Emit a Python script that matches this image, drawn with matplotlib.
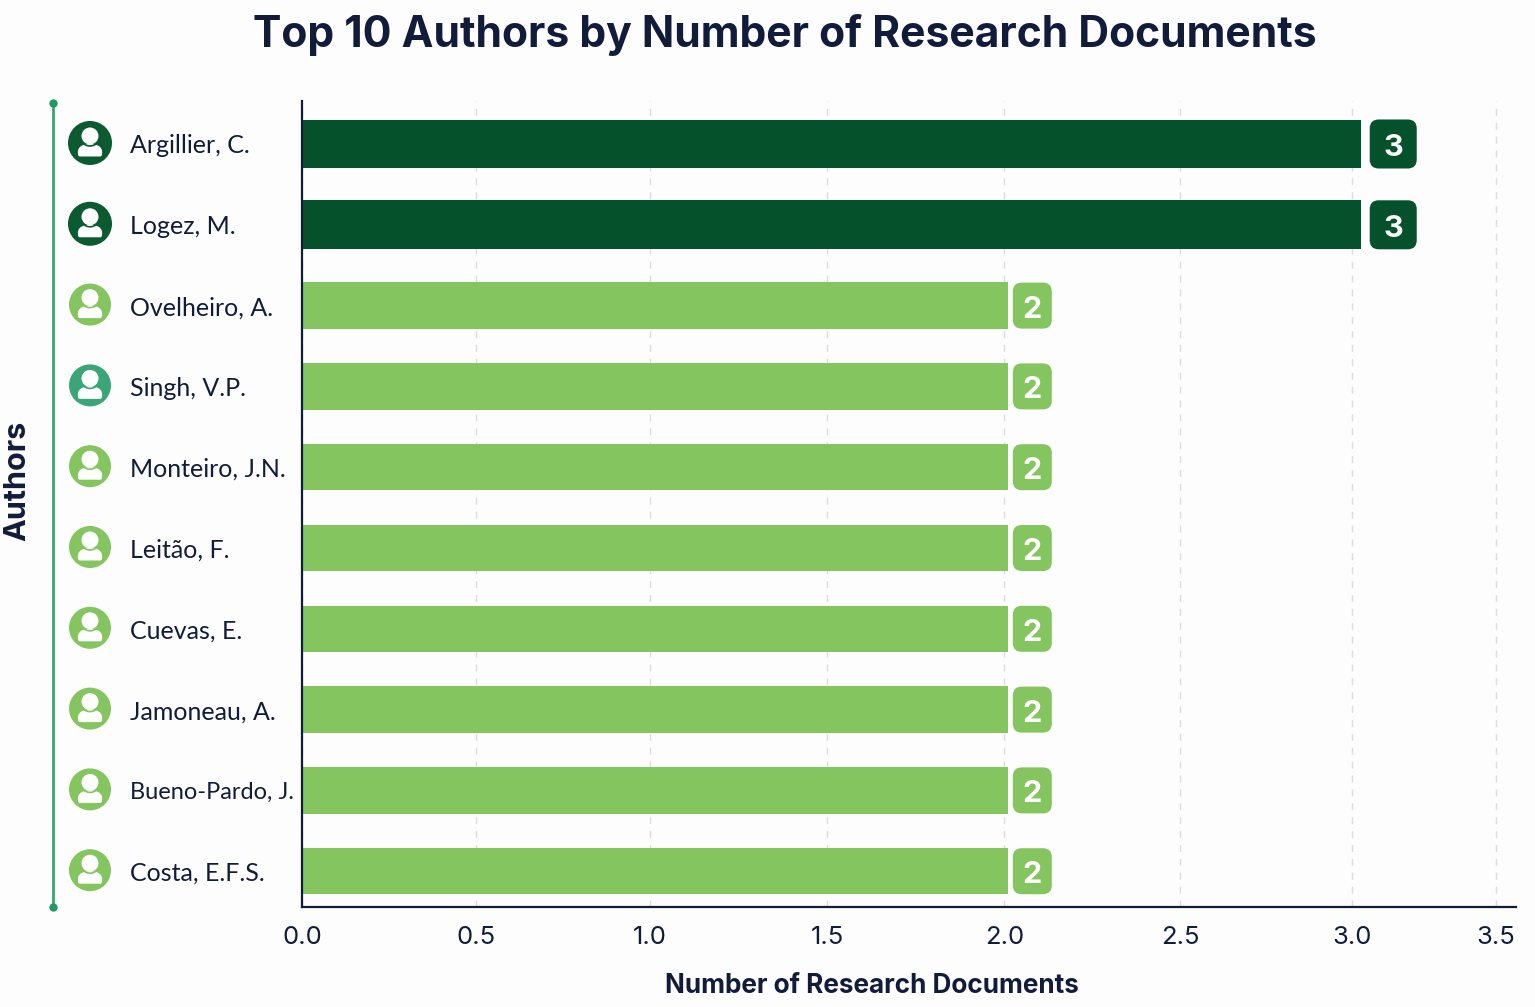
import matplotlib
matplotlib.use("Agg")
import matplotlib.pyplot as plt
from matplotlib.patches import Circle, PathPatch, FancyBboxPatch
from matplotlib.path import Path

plt.rcParams["font.family"] = ["Inter", "DejaVu Sans"]

# data
authors = ["Argillier, C.", "Logez, M.", "Ovelheiro, A.", "Singh, V.P.", "Monteiro, J.N.",
           "Leitão, F.", "Cuevas, E.", "Jamoneau, A.", "Bueno-Pardo, J.", "Costa, E.F.S."]
documents = [3, 3, 2, 2, 2, 2, 2, 2, 2, 2]
# the reference ticks are not evenly spaced, so positions are read off separately
tick_positions = [0.0, 0.492, 0.986, 1.488, 1.99, 2.489, 2.975, 3.383]
tick_labels = ["0.0", "0.5", "1.0", "1.5", "2.0", "2.5", "3.0", "3.5"]

W, H = 1535, 1007
NAVY = "#101c3a"
DARK = "#05512b"
LIGHT = "#84c55f"
TEAL = "#3aa676"
BG = "#fdfdfd"
avatar_colors = ["#0b5a30", "#0b5a30", LIGHT, TEAL] + [LIGHT] * 6

fig = plt.figure(figsize=(W / 100, H / 100), dpi=100, facecolor=BG)

# main axes: left 302, right 1516, top 101, bottom 907 (pixels)
ax = fig.add_axes([302 / W, 1 - 907 / H, (1516 - 302) / W, (907 - 101) / H], facecolor="none")
ax.set_xlim(0, 3.44)
ax.set_ylim(9.443, -0.532)

# overlay in pixel coordinates for avatars and badges
ov = fig.add_axes([0, 0, 1, 1], facecolor="none")
ov.set_xlim(0, W)
ov.set_ylim(H, 0)
ov.axis("off")

colors = [DARK if v == 3 else LIGHT for v in documents]
heights = [0.606 if v == 3 else 0.572 for v in documents]
ypos = list(range(len(authors)))
ax.barh(ypos, documents, height=heights, color=colors, zorder=2)

ax.set_xticks(tick_positions, tick_labels, fontsize=18.5, color=NAVY)
ax.set_yticks(ypos, authors, fontsize=18, color=NAVY, ha="left", family=["Lato", "DejaVu Sans"])
# longest name has to stay clear of the axis line
ax.get_yticklabels()[8].set_fontsize(17)
ax.tick_params(axis="x", length=0, pad=14)
ax.tick_params(axis="y", length=0, pad=123.8)
ax.grid(axis="x", color="#dddddd", linestyle=(0, (5, 5)), linewidth=1, zorder=0)
ax.set_axisbelow(True)
for s in ["top", "right"]:
    ax.spines[s].set_visible(False)
for s in ["left", "bottom"]:
    ax.spines[s].set_color(NAVY)
    ax.spines[s].set_linewidth(1.6)


def to_px(x, y):
    px, py = ax.transData.transform((x, y))
    return px, H - py


def body_path(cx, cy):
    # shoulders of the person icon, y grows downward on the overlay
    verts = [(-12, 11), (-13, 5), (-9, 1), (0, 1), (9, 1), (13, 5), (12, 11),
             (12, 13), (11, 13.5), (10, 13.5), (-10, 13.5), (-11, 13.5), (-12, 13), (-12, 11), (-12, 11)]
    codes = [Path.MOVETO, Path.CURVE4, Path.CURVE4, Path.CURVE4, Path.CURVE4, Path.CURVE4, Path.CURVE4,
             Path.CURVE4, Path.CURVE4, Path.CURVE4, Path.LINETO, Path.CURVE4, Path.CURVE4, Path.CURVE4,
             Path.CLOSEPOLY]
    return Path([(cx + x, cy + y) for x, y in verts], codes)


for i, (v, c) in enumerate(zip(documents, colors)):
    # value badge next to the bar end
    end, cy = to_px(v, i)
    big = v == 3
    bw, bh = (47, 49) if big else (39, 46)
    gap = 9 if big else 5
    ov.add_patch(FancyBboxPatch((end + gap + 9, cy - bh / 2 + 9), bw - 18, bh - 18,
                                boxstyle="round,pad=9,rounding_size=9",
                                fc=c, ec="none", zorder=3))
    ov.text(end + gap + bw / 2, cy + 1, str(v), color="white", fontsize=22, fontweight="bold",
            ha="center", va="center_baseline", zorder=4)
    # avatar
    r = 22 if big else 21
    ax_c = 90
    acy = cy - 1
    ov.add_patch(Circle((ax_c, acy), r, fc=avatar_colors[i], ec="none", zorder=3))
    ov.add_patch(Circle((ax_c, acy - 7), 8.5, fc="white", ec="none", zorder=4))
    ov.add_patch(Circle((ax_c, acy - 7), 10, fc="none", ec=avatar_colors[i], lw=1.2, zorder=5))
    ov.add_patch(PathPatch(body_path(ax_c, acy), fc="white", ec="none", zorder=4))

# green bracket on the left
ov.plot([53, 53], [103, 907], color=TEAL, lw=2, zorder=2)
ov.plot([53, 53], [103, 907], ls="none", marker="o", ms=5, color="#1f9a66", zorder=3)

fig.text(785 / W, 1 - 35 / H, "Top 10 Authors by Number of Research Documents", fontsize=30.7,
         fontweight="bold", color=NAVY, ha="center", va="center")
fig.text(872 / W, 1 - 986 / H, "Number of Research Documents", fontsize=18.8, fontweight="bold",
         color=NAVY, ha="center", va="center")
fig.text(17 / W, 1 - 481 / H, "Authors", fontsize=22, fontweight="bold", color=NAVY,
         rotation=90, ha="center", va="center")

fig.savefig("out.png", dpi=100, facecolor=fig.get_facecolor())
